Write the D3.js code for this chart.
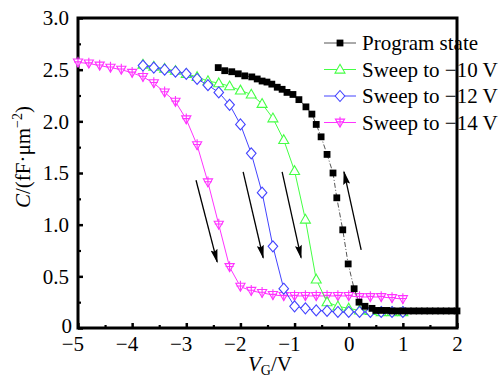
<!DOCTYPE html>
<html>
<head>
<meta charset="utf-8">
<script src="https://cdn.jsdelivr.net/npm/d3@7"></script>
<style>
  body { margin: 0; background: #fff; }
  svg text { font-family: "Liberation Serif", "Times New Roman", serif; }
</style>
</head>
<body>
<svg id="chart" width="500" height="387"></svg>
<script>
// program state (black squares)
var vProgram = [-2.41,-2.29,-2.16,-2.04,-1.92,-1.79,-1.69,-1.60,-1.51,-1.42,-1.32,-1.23,-1.14,-1.03,-0.92,-0.79,-0.68,-0.60,-0.51,-0.40,-0.29,-0.22,-0.11,-0.01,0.10,0.19,0.30,0.43,
  0.5,0.6,0.7,0.8,0.9,1.0,1.1,1.2,1.3,1.4,1.5,1.6,1.7,1.8,1.9,2.0];
var cProgram = [2.52,2.49,2.48,2.46,2.44,2.43,2.41,2.39,2.38,2.36,2.33,2.31,2.28,2.26,2.21,2.14,2.07,1.97,1.85,1.68,1.50,1.26,0.95,0.62,0.38,0.25,0.21,0.19,
  0.17,0.17,0.17,0.165,0.165,0.165,0.165,0.165,0.165,0.165,0.165,0.165,0.165,0.165,0.165,0.165];

// sweep to -10 V and -12 V share the same gate voltages
var vSweep = [-3.8,-3.6,-3.4,-3.2,-3.0,-2.8,-2.6,-2.4,-2.2,-2.0,-1.8,-1.6,-1.4,-1.2,-1.0,-0.8,-0.6,-0.4,-0.2,0.0,0.2,0.4,0.6,0.8,1.0];
var cSweep10 = [2.55,2.53,2.51,2.49,2.46,2.43,2.39,2.37,2.34,2.30,2.26,2.17,2.03,1.82,1.52,1.05,0.47,0.25,0.21,0.19,0.17,0.165,0.155,0.155,0.155];
var cSweep12 = [2.54,2.52,2.50,2.48,2.46,2.41,2.35,2.28,2.16,1.97,1.69,1.31,0.79,0.38,0.21,0.19,0.17,0.165,0.155,0.155,0.155,0.155,0.155,0.155,0.155];

var vSweep14 = [-5.0,-4.8,-4.6,-4.4,-4.2,-4.0,-3.8,-3.6,-3.4,-3.2,-3.0,-2.8,-2.6,-2.4,-2.2,-2.0,-1.8,-1.6,-1.4,-1.2,-1.0,-0.8,-0.6,-0.4,-0.2,0.0,0.2,0.4,0.6,0.8,1.0];
var cSweep14 = [2.57,2.56,2.54,2.52,2.50,2.47,2.43,2.37,2.28,2.19,2.02,1.77,1.41,1.00,0.59,0.40,0.36,0.34,0.32,0.31,0.31,0.31,0.31,0.31,0.31,0.31,0.30,0.30,0.30,0.29,0.28];

var legendLabels = ["Program state", "Sweep to \u221210 V", "Sweep to \u221212 V", "Sweep to \u221214 V"];
var xTicks = [-5,-4,-3,-2,-1,0,1,2];
var yTicks = [0,0.5,1.0,1.5,2.0,2.5,3.0];

// arrows [v0, c0, v1, c1], head at the second point
var arrows = [
  [-2.82, 1.43, -2.43, 0.64],
  [-1.95, 1.51, -1.58, 0.68],
  [-1.23, 1.51, -0.88, 0.68],
  [0.23, 0.755, -0.087, 1.51]
];

var svg = d3.select("#chart");
var plotL = 78, plotR = 457, plotT = 18, plotB = 328;

var x = d3.scaleLinear().domain([-5, 2]).range([plotL, plotR]);
var y = d3.scaleLinear().domain([0, 3]).range([plotB, plotT]);

var fmtX = function(d) { return d < 0 ? "\u2212" + Math.abs(d) : d; };
var fmtY = function(d) { return d === 0 ? "0" : d3.format(".1f")(d); };

// minor ticks
svg.append("g")
  .attr("transform", "translate(0," + plotB + ")")
  .call(d3.axisBottom(x).tickValues(d3.range(-4.5, 2, 1)).tickSize(-3).tickFormat(""))
  .call(function(g) { g.select(".domain").remove(); g.selectAll("line").attr("stroke-width", 2.2); });
svg.append("g")
  .attr("transform", "translate(" + plotL + ",0)")
  .call(d3.axisLeft(y).tickValues(d3.range(0.25, 3, 0.5)).tickSize(-3).tickFormat(""))
  .call(function(g) { g.select(".domain").remove(); g.selectAll("line").attr("stroke-width", 2.2); });

// major ticks
var xAxis = svg.append("g")
  .attr("transform", "translate(0," + plotB + ")")
  .call(d3.axisBottom(x).tickValues(xTicks).tickSize(-5).tickFormat(fmtX));
var yAxis = svg.append("g")
  .attr("transform", "translate(" + plotL + ",0)")
  .call(d3.axisLeft(y).tickValues(yTicks).tickSize(-5).tickFormat(fmtY));

[xAxis, yAxis].forEach(function(g) {
  g.select(".domain").remove();
  g.selectAll("line").attr("stroke-width", 2.5);
  g.selectAll("text").attr("font-size", 21).attr("fill", "#000")
    .style("font-family", "'Liberation Serif', serif");
});
// digit sits under the tick, the minus sign hangs to the left
xAxis.selectAll("text").attr("dy", null).attr("y", 23)
  .attr("text-anchor", function(d) { return d < 0 ? "end" : "middle"; })
  .attr("x", function(d) { return d < 0 ? 5.5 : 0; });
yAxis.selectAll("text").attr("x", function(d) { return d === 0 ? -6 : -9; })
  .attr("dy", function(d) { return d === 0 ? "0.2em" : "0.33em"; });

// frame
svg.append("rect")
  .attr("x", plotL).attr("y", plotT)
  .attr("width", plotR - plotL).attr("height", plotB - plotT)
  .attr("fill", "none").attr("stroke", "#000").attr("stroke-width", 3);

// marker shapes
function drawMarker(g, type, color) {
  if (type === "square") {
    g.append("rect").attr("x", -3.4).attr("y", -3.4).attr("width", 6.8).attr("height", 6.8).attr("fill", "#000");
  } else if (type === "triangle") {
    g.append("path").attr("d", "M0,-5.2L5,3.6L-5,3.6Z")
      .attr("fill", "#fff").attr("stroke", color).attr("stroke-width", 1.1);
  } else if (type === "diamond") {
    g.append("path").attr("d", "M0,-5.5L4.8,0L0,5.5L-4.8,0Z")
      .attr("fill", "#fff").attr("stroke", color).attr("stroke-width", 1.1);
  } else {
    g.append("path").attr("d", "M-4.6,-3.4L4.6,-3.4L0,4.6Z")
      .attr("fill", "#fff").attr("stroke", color).attr("stroke-width", 1.1);
    g.append("path").attr("d", "M0,-5.8L0,4.6M-4,-0.6L4,-0.6")
      .attr("fill", "none").attr("stroke", color).attr("stroke-width", 1.1);
  }
}

var series = [
  { v: vSweep14, c: cSweep14, color: "#ff33ff", type: "ytri", dash: null },
  { v: vSweep, c: cSweep10, color: "#44ff44", type: "triangle", dash: null },
  { v: vSweep, c: cSweep12, color: "#4444ff", type: "diamond", dash: null },
  { v: vProgram, c: cProgram, color: "#555", type: "square", dash: "5,2,1,2" }
];

var line = d3.line().x(function(d) { return x(d[0]); }).y(function(d) { return y(d[1]); });

series.forEach(function(s) {
  var pts = d3.zip(s.v, s.c);
  svg.append("path")
    .datum(pts)
    .attr("d", line)
    .attr("fill", "none")
    .attr("stroke", s.color)
    .attr("stroke-width", 1)
    .attr("stroke-dasharray", s.dash);
  svg.append("g").selectAll("g")
    .data(pts)
    .enter().append("g")
    .attr("transform", function(d) { return "translate(" + x(d[0]) + "," + y(d[1]) + ")"; })
    .each(function() { drawMarker(d3.select(this), s.type, s.color); });
});

// arrows
svg.append("defs").append("marker")
  .attr("id", "headArrow")
  .attr("viewBox", "0 0 20 10")
  .attr("refX", 18).attr("refY", 5)
  .attr("markerWidth", 16).attr("markerHeight", 7)
  .attr("markerUnits", "userSpaceOnUse")
  .attr("orient", "auto")
  .append("path").attr("d", "M0,0L20,5L0,10L3,5Z").attr("fill", "#000");

svg.append("g").selectAll("line")
  .data(arrows)
  .enter().append("line")
  .attr("x1", function(d) { return x(d[0]); })
  .attr("y1", function(d) { return y(d[1]); })
  .attr("x2", function(d) { return x(d[2]); })
  .attr("y2", function(d) { return y(d[3]); })
  .attr("stroke", "#000").attr("stroke-width", 1.3)
  .attr("marker-end", "url(#headArrow)");

// legend
var legendOrder = [3, 1, 2, 0];
var legend = svg.append("g");
legendLabels.forEach(function(label, i) {
  var s = series[legendOrder[i]];
  var ly = 43 + i * 26.5;
  var row = legend.append("g").attr("transform", "translate(0," + ly + ")");
  row.append("line").attr("x1", 324).attr("x2", 356).attr("y1", 0).attr("y2", 0)
    .attr("stroke", s.color).attr("stroke-width", 1);
  drawMarker(row.append("g").attr("transform", "translate(340,0)"), s.type, s.color);
  row.append("text").attr("x", 362).attr("y", 7).attr("font-size", 21).text(label);
});

// axis titles
var yTitle = svg.append("text")
  .attr("transform", "translate(30,157) rotate(-90)")
  .attr("text-anchor", "middle")
  .attr("font-size", 21);
yTitle.append("tspan").attr("font-style", "italic").text("C");
yTitle.append("tspan").text("/(fF\u00b7\u03bcm");
yTitle.append("tspan").attr("font-size", 14).attr("dy", -8).text("\u22122");
yTitle.append("tspan").attr("dy", 8).text(")");

var xTitle = svg.append("text")
  .attr("x", 270).attr("y", 371)
  .attr("text-anchor", "middle")
  .attr("font-size", 21);
xTitle.append("tspan").attr("font-style", "italic").text("V");
xTitle.append("tspan").attr("font-size", 14).attr("dy", 4).text("G");
xTitle.append("tspan").attr("dy", -4).text("/V");
</script>
</body>
</html>
